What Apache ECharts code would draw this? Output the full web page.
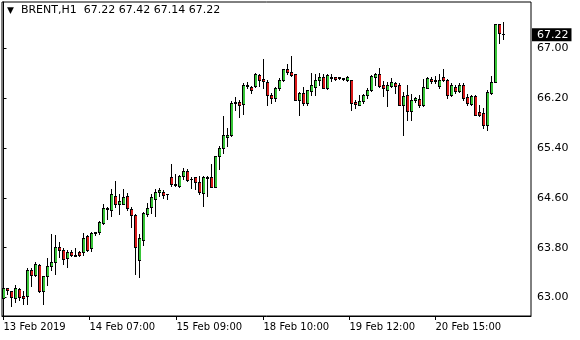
<!DOCTYPE html>
<html><head><meta charset="utf-8">
<script src="https://cdn.jsdelivr.net/npm/echarts@6/dist/echarts.min.js"></script>
<style>html,body{margin:0;padding:0;background:#fff}#c{width:580px;height:340px}</style>
</head><body><div id="c"></div>
<script>
// Hourly BRENT bars
const opens = [62.99,63.14,63.09,62.99,63.13,63.02,63.01,63.43,63.36,63.52,63.09,63.33,63.50,63.57,63.81,63.75,63.62,63.73,63.67,63.73,
  63.72,63.98,63.78,64.03,64.04,64.19,64.42,64.40,64.63,64.49,64.50,64.63,64.42,64.31,63.60,63.91,64.34,64.44,64.58,64.69,
  64.69,64.66,64.92,64.80,64.78,64.94,65.03,64.90,64.92,64.84,64.67,64.91,64.92,64.76,65.26,65.39,65.57,65.61,66.12,66.13,
  66.10,66.40,66.38,66.39,66.56,66.51,66.46,66.25,66.19,66.35,66.48,66.66,66.62,66.58,66.17,66.28,66.12,66.31,66.37,66.48,
  66.54,66.35,66.54,66.54,66.53,66.52,66.48,66.48,66.14,66.09,66.15,66.24,66.32,66.53,66.58,66.41,66.33,66.39,66.44,66.40,
  66.08,66.24,65.99,66.16,66.18,66.08,66.36,66.51,66.48,66.39,66.53,66.49,66.24,66.37,66.31,66.41,66.21,66.10,66.23,65.97,
  65.95,65.76,66.28,66.46,67.38,67.22];
const closes = [63.14,63.12,63.00,63.15,63.00,62.99,63.43,63.35,63.53,63.09,63.33,63.50,63.57,63.81,63.75,63.61,63.73,63.67,63.66,63.67,
  63.95,63.76,64.03,64.04,64.21,64.43,64.43,64.65,64.49,64.54,64.61,64.43,64.31,63.81,63.94,64.35,64.43,64.60,64.68,64.72,
  64.64,64.65,64.82,64.82,64.94,65.03,64.88,64.90,64.84,64.68,64.92,64.93,64.77,65.26,65.40,65.60,65.61,66.12,66.14,66.08,
  66.41,66.39,66.32,66.58,66.48,66.47,66.24,66.20,66.35,66.49,66.66,66.61,66.56,66.17,66.27,66.12,66.32,66.40,66.49,66.53,
  66.35,66.56,66.52,66.50,66.52,66.50,66.54,66.12,66.10,66.15,66.25,66.33,66.55,66.58,66.39,66.36,66.40,66.46,66.39,66.09,
  66.23,65.99,66.17,66.20,66.08,66.37,66.52,66.47,66.47,66.49,66.48,66.24,66.40,66.31,66.41,66.20,66.12,66.23,65.93,65.92,
  65.77,66.30,66.46,67.38,67.24,67.22];
const lows = [62.95,63.05,62.86,62.92,62.96,62.88,62.89,63.17,63.33,63.08,62.88,63.20,63.44,63.37,63.65,63.53,63.48,63.66,63.66,63.66,
  63.68,63.74,63.74,64.00,64.02,64.18,64.25,64.30,64.45,64.34,64.50,64.40,64.13,63.37,63.32,63.83,64.30,64.35,64.30,64.63,
  64.59,64.58,64.78,64.78,64.76,64.89,64.86,64.75,64.73,64.65,64.46,64.62,64.76,64.76,65.06,65.31,65.42,65.59,66.01,65.89,
  65.94,66.35,66.27,66.38,66.39,66.35,66.09,66.12,66.15,66.33,66.47,66.58,66.55,66.16,65.92,66.09,66.09,66.24,66.24,66.40,
  66.35,66.34,66.47,66.48,66.51,66.48,66.47,66.00,66.04,66.08,66.12,66.19,66.31,66.41,66.38,66.23,66.07,66.38,66.28,66.08,
  65.60,65.84,65.84,66.14,66.05,66.07,66.36,66.44,66.44,66.36,66.47,66.19,66.23,66.28,66.30,66.17,66.08,66.09,65.93,65.91,
  65.72,65.68,66.26,66.45,67.08,67.14];
const highs = [63.16,63.15,63.10,63.19,63.14,63.10,63.46,63.46,63.56,63.53,63.34,63.63,64.02,64.00,63.89,63.78,63.76,63.76,63.79,63.74,
  64.03,63.99,64.04,64.05,64.22,64.49,64.45,64.74,64.87,64.66,64.74,64.67,64.45,64.33,64.02,64.37,64.51,64.65,64.74,64.75,
  64.72,64.66,65.14,64.97,64.96,65.08,65.05,64.93,64.93,64.94,64.94,64.95,65.13,65.27,65.42,65.90,65.71,66.15,66.21,66.17,
  66.44,66.45,66.39,66.60,66.58,66.83,66.48,66.28,66.37,66.52,66.67,66.74,66.87,66.59,66.29,66.38,66.32,66.60,66.58,66.60,
  66.59,66.59,66.59,66.54,66.54,66.52,66.55,66.48,66.16,66.25,66.26,66.35,66.56,66.60,66.68,66.47,66.46,66.52,66.46,66.43,
  66.30,66.40,66.26,66.21,66.25,66.51,66.54,66.53,66.55,66.58,66.66,66.51,66.44,66.41,66.44,66.43,66.26,66.25,66.24,66.09,
  66.04,66.32,66.55,67.39,67.39,67.42];
const xTickBars = [0, 21.5, 43.25, 65, 86.5, 108];
const xTickLabels = ['13 Feb 2019','14 Feb 07:00','15 Feb 09:00','18 Feb 10:00','19 Feb 12:00','20 Feb 15:00'];
const yTicks = [63.00, 63.80, 64.60, 65.40, 66.20, 67.00];
const symbol = 'BRENT,H1';

const n = opens.length;
const candles = [];
for (let i = 0; i < n; i++) candles.push([i, opens[i], closes[i], lows[i], highs[i]]);
const titleText = '{t|\u25BC}  ' + symbol + '  ' +
  [opens[n-1], highs[n-1], lows[n-1], closes[n-1]].map(v => v.toFixed(2)).join(' ');

const UP = '#36c436', DOWN = '#d81818';
const px = v => Math.round(v - 0.5);   // pixel index containing v

function renderCandle(params, api) {
  const i = api.value(0);
  const o = api.value(1), c = api.value(2), l = api.value(3), h = api.value(4);
  const cx = px(api.coord([i, o])[0]);
  const yo = api.coord([i, o])[1], yc = api.coord([i, c])[1];
  const yl = px(api.coord([i, l])[1]), yh = px(api.coord([i, h])[1]);
  const top = px(Math.min(yo, yc)), bot = px(Math.max(yo, yc));
  const children = [
    {type: 'rect', shape: {x: cx, y: yh, width: 1, height: yl - yh + 1}, style: {fill: '#000'}, z2: 1},
    {type: 'rect', shape: {x: cx - 1, y: top, width: 3, height: bot - top + 1}, style: {fill: '#000'}, z2: 2}
  ];
  if (bot - top >= 2) {
    children.push({type: 'rect', shape: {x: cx, y: top + 1, width: 2, height: bot - top - 1},
      style: {fill: c >= o ? UP : DOWN}, z2: 3});
  }
  if (params.dataIndex === n - 1) {
    const cs = params.coordSys;
    children.push({type: 'text', x: cs.x + cs.width + 1, y: yc, z2: 5,
      style: {text: c.toFixed(2), fill: '#fff', backgroundColor: '#000', padding: [1, 3, 0, 5],
        font: '11px "DejaVu Sans"', verticalAlign: 'middle', align: 'left', lineHeight: 12}});
  }
  return {type: 'group', children};
}

const chart = echarts.init(document.getElementById('c'), null, {renderer: 'canvas'});
chart.setOption({
  animation: false,
  backgroundColor: '#fff',
  title: {
    text: titleText, left: 7, top: 5, padding: 0,
    textStyle: {fontFamily: 'DejaVu Sans', fontSize: 11, fontWeight: 'normal', color: '#000',
      rich: {t: {fontFamily: 'DejaVu Sans', fontSize: 9, color: '#000'}}}
  },
  grid: {left: 2, top: 2, width: 529, height: 314, show: true, borderColor: '#000', borderWidth: 1, backgroundColor: '#fff'},
  xAxis: {
    type: 'value', min: -0.375, max: 131.875,
    splitLine: {show: false},
    axisLine: {show: true, lineStyle: {color: '#000', width: 1}},
    axisTick: {show: true, customValues: xTickBars, length: 4, lineStyle: {color: '#000'}},
    axisLabel: {customValues: xTickBars, align: 'left', margin: 6,
      fontFamily: 'DejaVu Sans', fontSize: 10, color: '#000',
      formatter: v => xTickLabels[xTickBars.indexOf(v)] || ''}
  },
  yAxis: {
    type: 'value', position: 'right', min: 62.703, max: 67.747, scale: true,
    splitLine: {show: false},
    axisLine: {show: true, lineStyle: {color: '#000', width: 1}},
    axisTick: {show: true, customValues: yTicks, length: 3, lineStyle: {color: '#000'}},
    axisLabel: {customValues: yTicks, margin: 6, fontFamily: 'DejaVu Sans', fontSize: 11, color: '#000',
      formatter: v => v.toFixed(2)}
  },
  series: [{
    type: 'custom',
    data: candles,
    encode: {x: 0, y: [1, 2, 3, 4]},
    clip: false,
    renderItem: renderCandle
  }]
});
</script></body></html>
